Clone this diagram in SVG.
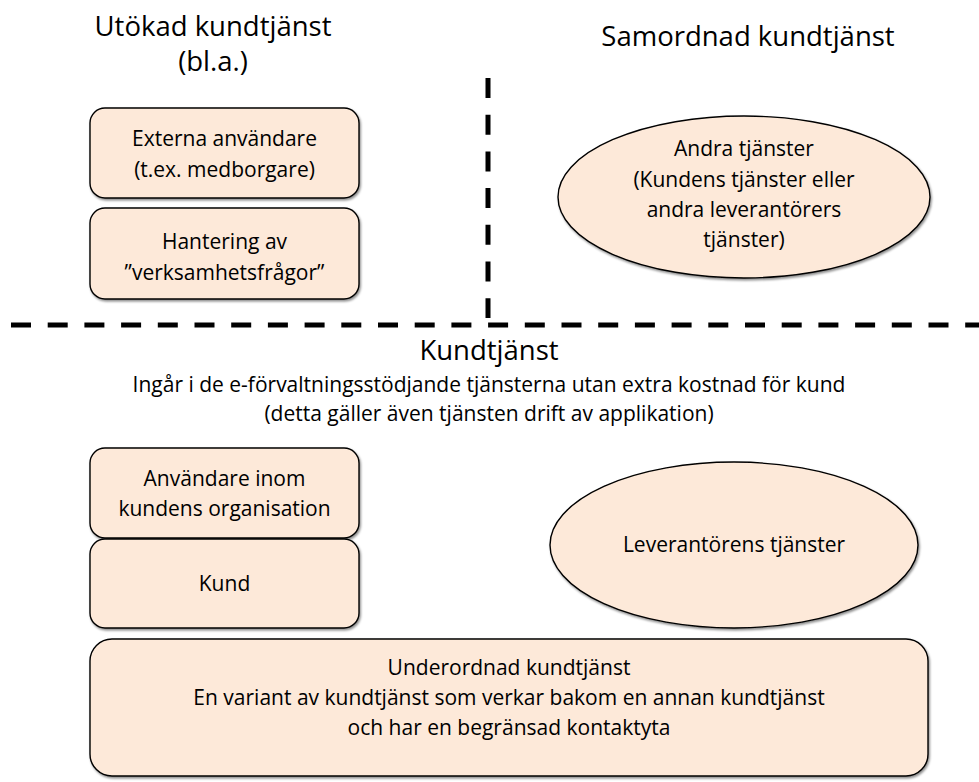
<svg xmlns="http://www.w3.org/2000/svg" width="979" height="782" viewBox="0 0 979 782">
  <defs>
    <filter id="shadow" x="-5%" y="-5%" width="110%" height="115%">
      <feDropShadow dx="1.2" dy="1.8" stdDeviation="0.9" flood-color="#000" flood-opacity="0.45"/>
    </filter>
  </defs>
  <style>
    text { font-family: "Open Sans", "Noto Sans", "Liberation Sans", sans-serif; fill: #000; text-anchor: middle; }
    .title { font-size: 27.5px; }
    .label { font-size: 21px; }
    .sub { font-size: 21px; }
    .shape { fill: #FDE9D9; stroke: #000; stroke-width: 1.4; filter: url(#shadow); }
    .divider { stroke: #000; stroke-width: 5; fill: none; stroke-dasharray: 20 16.7; }
  </style>

  <rect width="979" height="782" fill="#fff"/>

  <!-- section headings -->
  <g id="heading-extended">
    <text class="title" x="213" y="36">Utökad kundtjänst</text>
    <text class="title" x="213" y="71">(bl.a.)</text>
  </g>
  <g id="heading-coordinated">
    <text class="title" x="748" y="46">Samordnad kundtjänst</text>
  </g>

  <!-- dashed dividers -->
  <g id="connectors">
    <line class="divider" x1="488" y1="78" x2="488" y2="318"/>
    <line class="divider" x1="11" y1="325" x2="979" y2="325"/>
  </g>

  <g id="external-users">
    <rect class="shape" x="90" y="108" width="269" height="90" rx="15"/>
    <text class="label" x="224.5" y="146">Externa användare</text>
    <text class="label" x="224.5" y="177">(t.ex. medborgare)</text>
  </g>

  <g id="business-questions">
    <rect class="shape" x="90" y="208" width="269" height="91" rx="15"/>
    <text class="label" x="224.5" y="249">Hantering av</text>
    <text class="label" x="224.5" y="280">”verksamhetsfrågor”</text>
  </g>

  <g id="other-services">
    <ellipse class="shape" cx="744" cy="197" rx="186" ry="81"/>
    <text class="label" x="744" y="156">Andra tjänster</text>
    <text class="label" x="744" y="186.5">(Kundens tjänster eller</text>
    <text class="label" x="744" y="217">andra leverantörers</text>
    <text class="label" x="744" y="247">tjänster)</text>
  </g>

  <g id="heading-customer-service">
    <text class="title" x="489" y="360">Kundtjänst</text>
    <text class="sub" x="489" y="392">Ingår i de e-förvaltningsstödjande tjänsterna utan extra kostnad för kund</text>
    <text class="sub" x="489" y="421">(detta gäller även tjänsten drift av applikation)</text>
  </g>

  <g id="internal-users">
    <rect class="shape" x="90" y="448" width="269" height="90" rx="15"/>
    <text class="label" x="224.5" y="486">Användare inom</text>
    <text class="label" x="224.5" y="516">kundens organisation</text>
  </g>

  <g id="customer">
    <rect class="shape" x="90" y="539" width="269" height="89" rx="15"/>
    <text class="label" x="224.5" y="591">Kund</text>
  </g>

  <g id="supplier-services">
    <ellipse class="shape" cx="734" cy="545" rx="184" ry="83"/>
    <text class="label" x="734" y="552">Leverantörens tjänster</text>
  </g>

  <g id="subordinate-service">
    <rect class="shape" x="90" y="639" width="838" height="137" rx="22"/>
    <text class="label" x="509" y="675">Underordnad kundtjänst</text>
    <text class="label" x="509" y="705">En variant av kundtjänst som verkar bakom en annan kundtjänst</text>
    <text class="label" x="509" y="735">och har en begränsad kontaktyta</text>
  </g>
</svg>
